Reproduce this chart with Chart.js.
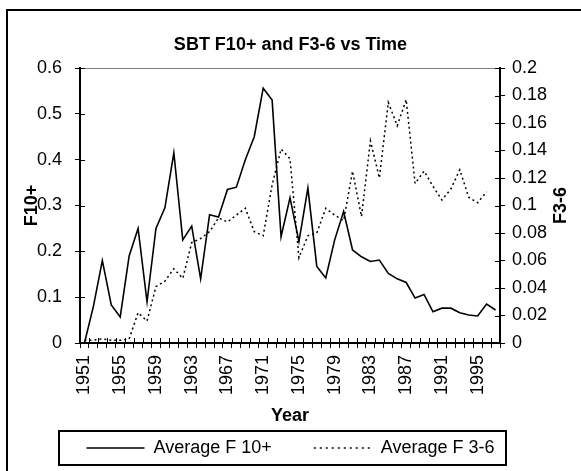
<!DOCTYPE html>
<html>
<head>
<meta charset="utf-8">
<script src="https://cdn.jsdelivr.net/npm/chart.js@4.4.1/dist/chart.umd.min.js"></script>
<style>
    html, body { margin: 0; padding: 0; background: #fff; }
    #wrap { position: relative; width: 581px; height: 471px; overflow: hidden; }
    #frame { position: absolute; left: 6px; top: 9px; width: 640px; height: 540px; border: 2px solid #000; }
    canvas { position: absolute; left: 0; top: 0; }
</style>
</head>
<body>
<div id="wrap">
    <div id="frame"></div>
    <canvas id="myChart" width="581" height="471"></canvas>
</div>
<script>
// Dados

const years = ['1951', '1952', '1953', '1954', '1955', '1956', '1957', '1958', '1959', '1960',
    '1961', '1962', '1963', '1964', '1965', '1966', '1967', '1968', '1969', '1970',
    '1971', '1972', '1973', '1974', '1975', '1976', '1977', '1978', '1979', '1980',
    '1981', '1982', '1983', '1984', '1985', '1986', '1987', '1988', '1989', '1990',
    '1991', '1992', '1993', '1994', '1995', '1996', '1997'];

const avgF10 = [0.0, 0.08, 0.18, 0.083, 0.057, 0.19, 0.25, 0.09, 0.25, 0.295,
    0.415, 0.225, 0.255, 0.14, 0.28, 0.275, 0.335, 0.34, 0.40, 0.45,
    0.556, 0.53, 0.232, 0.317, 0.221, 0.338, 0.167, 0.142, 0.225, 0.287,
    0.203, 0.188, 0.178, 0.181, 0.152, 0.14, 0.132, 0.098, 0.106, 0.068,
    0.076, 0.076, 0.066, 0.061, 0.059, 0.085, 0.072];

const avgF36 = [0.002, 0.002, 0.003, 0.002, 0.002, 0.003, 0.022, 0.016, 0.041, 0.045,
    0.054, 0.047, 0.073, 0.076, 0.081, 0.091, 0.088, 0.093, 0.098, 0.081,
    0.078, 0.115, 0.141, 0.134, 0.062, 0.078, 0.080, 0.098, 0.093, 0.089,
    0.125, 0.092, 0.147, 0.120, 0.175, 0.158, 0.177, 0.116, 0.125, 0.114,
    0.104, 0.112, 0.126, 0.106, 0.102, 0.110, null];

const leftMax = 0.6, leftStep = 0.1;
const rightMax = 0.2, rightStep = 0.02;
const yearLabelEvery = 4;

Chart.defaults.font.family = '"Liberation Sans", Arial, sans-serif';
Chart.defaults.font.size = 18;
Chart.defaults.color = '#000';

const fmt = (v) => String(Math.round(v * 1000) / 1000);

// marcas de escala que cruzam os eixos, moldura da legenda e título do eixo direito
const extras = {
    id: 'extras',
    afterDraw(chart) {
        const c = chart.ctx;
        const a = chart.chartArea;
        const x = chart.scales.x, y = chart.scales.y, y1 = chart.scales.y1;
        c.save();
        c.strokeStyle = '#000';
        c.lineWidth = 1;
        c.beginPath();
        y.ticks.forEach((t) => {
            const p = Math.round(y.getPixelForValue(t.value)) + 0.5;
            c.moveTo(a.left, p);
            c.lineTo(a.left + 5, p);
        });
        y1.ticks.forEach((t) => {
            const p = Math.round(y1.getPixelForValue(t.value)) + 0.5;
            c.moveTo(a.right - 5, p);
            c.lineTo(a.right, p);
        });
        const step = (x.right - x.left) / years.length;
        for (let i = 0; i <= years.length; i++) {
            const p = Math.round(x.left + i * step) + 0.5;
            c.moveTo(p, a.bottom - 5);
            c.lineTo(p, a.bottom);
        }
        c.stroke();

        const hb = chart.legend.legendHitBoxes;
        if (hb && hb.length) {
            const first = hb[0], last = hb[hb.length - 1];
            const cy = first.top + first.height / 2;
            const l = Math.round(first.left - 28), r = Math.round(last.left + last.width + 12);
            c.lineWidth = 2;
            c.strokeRect(l, Math.round(cy - 17), r - l, 34);
        }

        c.font = 'bold 18px "Liberation Sans", Arial, sans-serif';
        c.fillStyle = '#000';
        c.textAlign = 'center';
        c.textBaseline = 'middle';
        c.translate(y1.right - 20, (a.top + a.bottom) / 2);
        c.rotate(-Math.PI / 2);
        c.fillText('F3-6', 0, 0);
        c.restore();
    }
};

const ctx = document.getElementById('myChart').getContext('2d');

const myChart = new Chart(ctx, {
    type: 'line',
    data: {
        labels: years,
        datasets: [{
            label: 'Average F 10+',
            data: avgF10,
            yAxisID: 'y',
            borderColor: '#000',
            backgroundColor: 'transparent',
            borderWidth: 1.6,
            pointRadius: 0,
            tension: 0
        }, {
            label: 'Average F 3-6',
            data: avgF36,
            yAxisID: 'y1',
            borderColor: '#000',
            backgroundColor: 'transparent',
            borderWidth: 1.5,
            borderDash: [2, 3],
            pointRadius: 0,
            tension: 0
        }]
    },
    options: {
        responsive: false,
        animation: false,
        devicePixelRatio: 1,
        layout: { padding: { left: 0, right: 0, top: 0, bottom: 4 } },
        plugins: {
            tooltip: { enabled: false },
            title: {
                display: true,
                text: 'SBT F10+ and F3-6 vs Time',
                color: '#000',
                font: { size: 18, weight: 'bold' },
                padding: { top: 34, bottom: 12.4 }
            },
            legend: {
                position: 'bottom',
                labels: {
                    color: '#000',
                    font: { size: 18 },
                    boxWidth: 58,
                    boxHeight: 0,
                    padding: 42,
                    generateLabels: (chart) => Chart.defaults.plugins.legend.labels.generateLabels(chart)
                        .map((item) => Object.assign(item, { lineDash: item.lineDash && item.lineDash.length ? [2, 4] : [] }))
                }
            }
        },
        scales: {
            x: {
                type: 'category',
                offset: true,
                grid: { display: true, offset: true, drawOnChartArea: false, tickLength: 5, tickColor: '#000', lineWidth: 1 },
                border: { display: true, color: '#000', width: 2 },
                ticks: {
                    autoSkip: false,
                    maxRotation: 90,
                    minRotation: 90,
                    padding: 7,
                    color: '#000',
                    callback: (v, i) => (i % yearLabelEvery === 0 ? years[i] : '')
                },
                title: { display: true, text: 'Year', color: '#000', font: { size: 18, weight: 'bold' }, padding: { top: 0, bottom: -30 } },
                afterFit: (s) => { s.height = 54; }
            },
            y: {
                position: 'left',
                min: 0,
                max: leftMax,
                ticks: { stepSize: leftStep, padding: 13, color: '#000', callback: (v) => fmt(v) },
                grid: {
                    drawOnChartArea: true,
                    tickLength: 5,
                    tickColor: '#000',
                    lineWidth: 1,
                    color: (c) => (c.tick && c.tick.value > leftMax - 1e-9 ? '#808080' : 'rgba(0,0,0,0)')
                },
                border: { display: true, color: '#000', width: 2 },
                title: { display: true, text: 'F10+', color: '#000', font: { size: 18, weight: 'bold' }, padding: { top: 21, bottom: 0 } },
                afterFit: (s) => { s.width = 80; }
            },
            y1: {
                position: 'right',
                min: 0,
                max: rightMax,
                ticks: { stepSize: rightStep, padding: 7, color: '#000', callback: (v) => fmt(v) },
                grid: { drawOnChartArea: false, tickLength: 5, tickColor: '#000', lineWidth: 1 },
                border: { display: true, color: '#000', width: 2 },
                afterFit: (s) => { s.width = 81; }
            }
        }
    },
    plugins: [extras]
});
</script>
</body>
</html>
